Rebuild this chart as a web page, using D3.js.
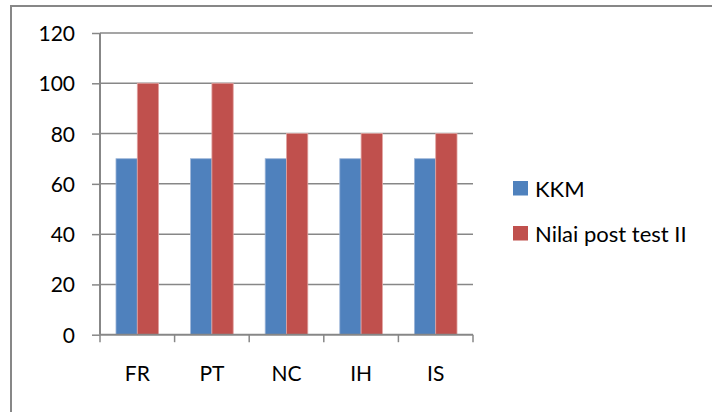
<!DOCTYPE html>
<html>
<head>
<meta charset="utf-8">
<script src="https://cdn.jsdelivr.net/npm/d3@7/dist/d3.min.js"></script>
<style>
  html, body { margin: 0; padding: 0; background: #fff; }
  svg { display: block; }
  text { font-family: Lato, "Open Sans", sans-serif; fill: #000; }
</style>
</head>
<body>
<script>
// Chart data
const categories = ["FR", "PT", "NC", "IH", "IS"];
const seriesNames = ["KKM", "Nilai post test II"];
const kkm = [70, 70, 70, 70, 70];
const postTest = [100, 100, 80, 80, 80];
const yTicks = [0, 20, 40, 60, 80, 100, 120];
const colors = ["#4F81BD", "#C0504D"];

const W = 712, H = 412;
const svg = d3.select("body").append("svg").attr("width", W).attr("height", H);

// Outer chart frame (left and top edges)
svg.append("path")
  .attr("d", `M11,${H} L11,6 L${W},6`)
  .attr("fill", "none").attr("stroke", "#878787").attr("stroke-width", 2);

const plot = { left: 100, right: 473, top: 33, bottom: 334.7 };

const y = d3.scaleLinear().domain([0, 120]).range([plot.bottom, plot.top]);
const x0 = d3.scaleBand().domain(categories).range([plot.left, plot.right]).padding(0);
const x1 = d3.scaleBand().domain(seriesNames).range([0, x0.bandwidth()])
  .paddingInner(0).paddingOuter(0.75);

const gridColor = "#878787";

// Horizontal gridlines
svg.append("g").selectAll("line").data(yTicks.filter(d => d > 0)).join("line")
  .attr("x1", plot.left).attr("x2", plot.right)
  .attr("y1", d => y(d)).attr("y2", d => y(d))
  .attr("stroke", gridColor).attr("stroke-width", 1.5);

// Bars
const rows = categories.map((c, i) => ({ cat: c, values: [kkm[i], postTest[i]] }));
const groups = svg.append("g").selectAll("g").data(rows).join("g")
  .attr("transform", d => `translate(${x0(d.cat)},0)`);
groups.selectAll("rect")
  .data(d => d.values.map((v, j) => ({ name: seriesNames[j], value: v, color: colors[j] })))
  .join("rect")
  .attr("x", d => x1(d.name))
  .attr("width", x1.bandwidth())
  .attr("y", d => y(d.value))
  .attr("height", d => y(0) - y(d.value))
  .attr("fill", d => d.color)
  .attr("stroke", d => d.name === "KKM" ? "#9db5d8" : "#e2a3a1")
  .attr("stroke-width", 0.8);

// Y axis
const yAxis = d3.axisLeft(y).tickValues(yTicks).tickSize(8).tickPadding(17)
  .tickFormat(d3.format("d"));
const gy = svg.append("g").attr("transform", `translate(${plot.left},0)`).call(yAxis);
gy.select(".domain").attr("stroke", gridColor).attr("stroke-width", 2).attr("d", `M0,${plot.top}V${plot.bottom}`);
gy.selectAll(".tick line").attr("stroke", gridColor).attr("stroke-width", 1.5);
gy.selectAll(".tick text").attr("font-size", 21).attr("font-family", "Lato, sans-serif")
  .attr("dy", "0.36em").attr("fill", "#000");

// X axis
const xAxis = d3.axisBottom(x0).tickSize(0).tickPadding(31);
const gx = svg.append("g").attr("transform", `translate(0,${plot.bottom})`).call(xAxis);
gx.select(".domain").attr("stroke", gridColor).attr("stroke-width", 2).attr("d", `M${plot.left},0H${plot.right}`);
gx.selectAll(".tick text").attr("font-size", 21).attr("font-family", "Lato, sans-serif").attr("fill", "#000");
// Category boundary tick marks
const bounds = categories.map(c => x0(c)).concat([x0.range()[1]]);
gx.append("g").selectAll("line").data(bounds).join("line")
  .attr("x1", d => d).attr("x2", d => d).attr("y1", 0).attr("y2", 7.5)
  .attr("stroke", gridColor).attr("stroke-width", 1.5);

// Legend
const legend = svg.append("g").attr("transform", "translate(513,181)");
const items = legend.selectAll("g").data(seriesNames).join("g")
  .attr("transform", (d, i) => `translate(0,${i * 45})`);
items.append("rect").attr("width", 15).attr("height", 14.5).attr("fill", (d, i) => colors[i]);
items.append("text").attr("x", 22).attr("y", 15.5).attr("font-size", 22).text(d => d);
</script>
</body>
</html>
